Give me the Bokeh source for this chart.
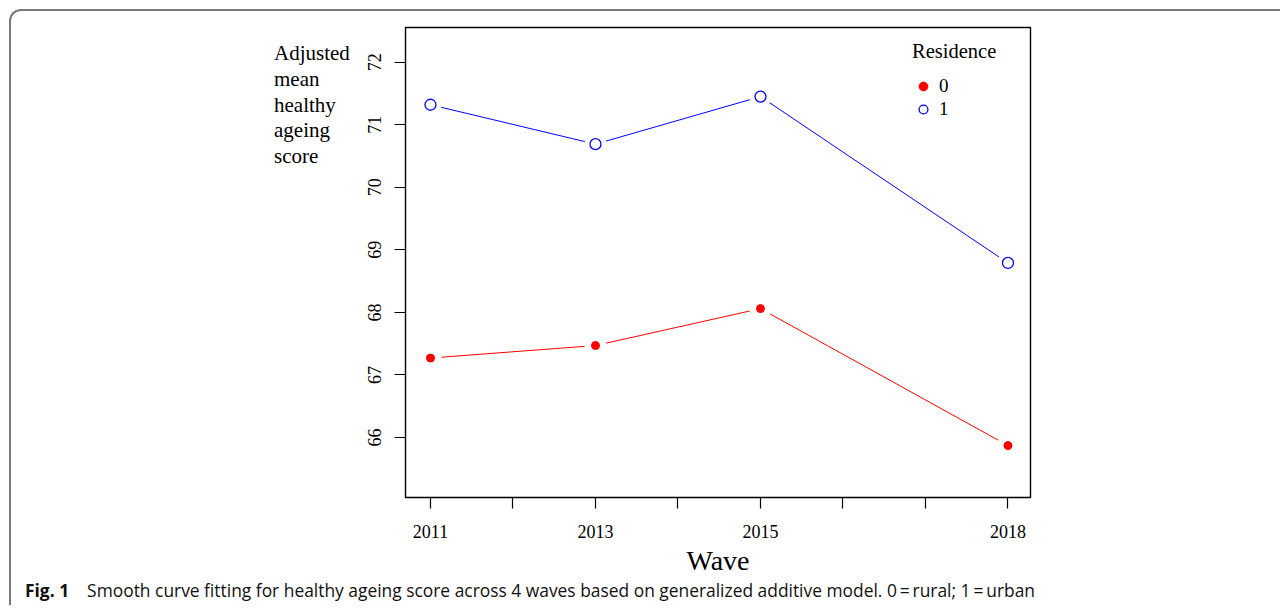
from bokeh.plotting import figure
from bokeh.layouts import column, row
from bokeh.models import Div, FixedTicker, Legend, LegendItem, Range1d
from bokeh.embed import file_html
from bokeh.resources import INLINE

years = [2011, 2013, 2015, 2018]
rural = [67.27, 67.47, 68.06, 65.87]
urban = [71.32, 70.69, 71.45, 68.79]
x_ticks = [2011, 2012, 2013, 2014, 2015, 2016, 2017, 2018]
x_tick_labels = ["2011", "", "2013", "", "2015", "", "", "2018"]
y_ticks = [66, 67, 68, 69, 70, 71, 72]
y_title_lines = ["Adjusted", "mean", "healthy", "ageing", "score"]
x_title = "Wave"
legend_title = "Residence"
legend_labels = ["0", "1"]
caption_bold = "Fig. 1"
caption_text = "Smooth curve fitting for healthy ageing score across 4 waves based on generalized additive model. 0\u2009=\u2009rural; 1\u2009=\u2009urban"

SERIF = "Liberation Serif"
SANS = "Open Sans"

LEFT_W = 340
FW, FH = 625, 470
fig = figure(width=54 + FW + 250, height=16 + FH + 88, output_backend="svg", toolbar_location=None,
             x_range=Range1d(2010.697, 2018.273), y_range=Range1d(65.04, 72.555),
             min_border_left=54, min_border_right=250, min_border_top=16,
             min_border_bottom=88)

fig.grid.visible = False
fig.outline_line_color = "black"
fig.outline_line_width = 1.4
fig.outline_line_alpha = 1.0

for ax in (fig.xaxis[0], fig.yaxis[0]):
    ax.axis_line_color = None
    ax.major_tick_in = 0
    ax.major_tick_out = 11
    ax.major_tick_line_color = "black"
    ax.major_tick_line_width = 1.2
    ax.minor_tick_line_color = None
    ax.major_label_text_font = SERIF
    ax.major_label_text_font_size = "18px"
    ax.major_label_text_color = "black"

fig.xaxis.ticker = FixedTicker(ticks=x_ticks)
fig.xaxis.major_label_overrides = {t: lab for t, lab in zip(x_ticks, x_tick_labels)}
fig.xaxis.major_label_standoff = 16
fig.xaxis.axis_label = x_title
fig.xaxis.axis_label_text_font = SERIF
fig.xaxis.axis_label_text_font_style = "normal"
fig.xaxis.axis_label_text_font_size = "28px"
fig.xaxis.axis_label_text_color = "black"
fig.xaxis.axis_label_standoff = 4

fig.yaxis.ticker = FixedTicker(ticks=y_ticks)
fig.yaxis.major_label_orientation = "vertical"
fig.yaxis.major_label_standoff = 13

# lines with gaps around points (R type = "b")
fig.line(years, urban, line_color="#0000ff", line_width=1)
fig.line(years, rural, line_color="#ff0000", line_width=1)
fig.scatter(years, urban, size=22, fill_color="white", line_color=None)
fig.scatter(years, rural, size=22, fill_color="white", line_color=None)
r_urban = fig.scatter(years, urban, size=11, fill_color=None, line_color="#0000ff", line_width=1.3)
r_rural = fig.scatter(years, rural, size=8, fill_color="#ff0000", line_color="#ff0000")

legend = Legend(items=[LegendItem(label=legend_labels[0], renderers=[r_rural]),
                       LegendItem(label=legend_labels[1], renderers=[r_urban])],
                location=(507, 377), title=legend_title,
                title_text_font=SERIF, title_text_font_size="20.5px", title_text_font_style="normal",
                title_text_color="black",
                label_text_font=SERIF, label_text_font_size="19px", label_text_color="black",
                border_line_color=None, background_fill_alpha=0,
                padding=0, margin=0, spacing=1, glyph_width=22, glyph_height=22,
                label_height=22, label_standoff=5, title_standoff=12)
fig.add_layout(legend)

ytitle_html = ("<div style=\"font-family:'Liberation Serif';font-size:21px;line-height:25.8px;"
               "color:#000;padding-left:263px;padding-top:30px;white-space:nowrap\">"
               + "<br>".join(y_title_lines) + "</div>")
ydiv = Div(text=ytitle_html, width=LEFT_W, height=16 + FH + 88, margin=0)

caption_html = ("<div style=\"font-family:'Open Sans';font-size:17.4px;line-height:20px;color:#111;"
                "padding-left:14px;white-space:nowrap;position:relative;top:-5px\">"
                "<b style=\"margin-right:18px\">" + caption_bold + "</b>" + caption_text + "</div>")
capdiv = Div(text=caption_html, width=LEFT_W + fig.width, height=20, margin=0)

p = column(row(ydiv, fig, spacing=0), capdiv, spacing=0)
p.styles = {"margin-left": "9px", "margin-top": "9px",
            "border-top": "2px solid #7a7a7a", "border-left": "2px solid #7a7a7a",
            "border-top-left-radius": "12px"}

open("out.html", "w").write(file_html(p, INLINE))
